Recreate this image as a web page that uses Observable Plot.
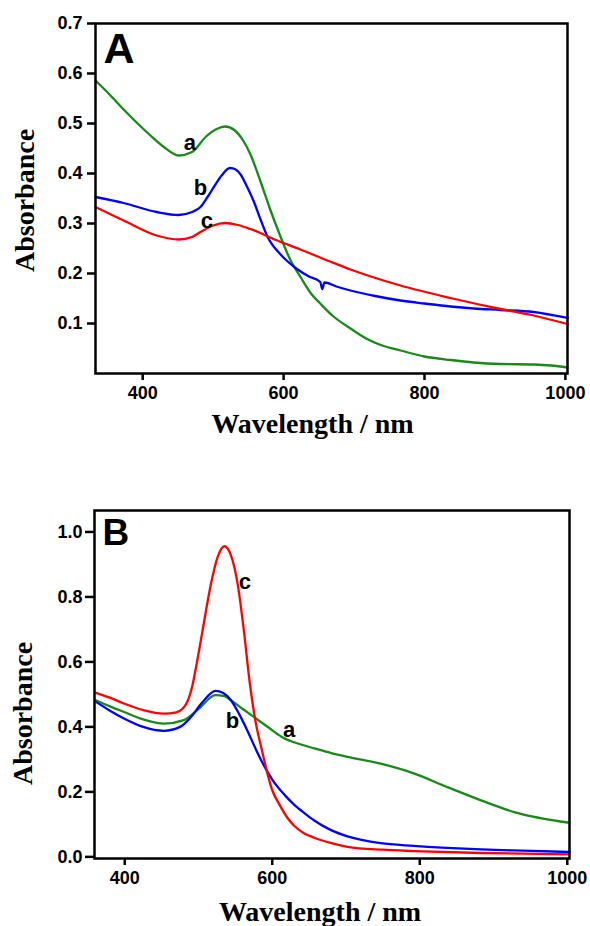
<!DOCTYPE html>
<html>
<head>
<meta charset="utf-8">
<script src="https://cdn.jsdelivr.net/npm/d3@7"></script>
<script src="https://cdn.jsdelivr.net/npm/@observablehq/plot@0.6"></script>
<style>
  body { margin: 0; background: #fff; }
  #chart { position: relative; width: 590px; height: 926px; }
  #chart svg { display: block; }
</style>
</head>
<body>
<div id="chart"></div>
<script>
// ---------- Panel A data ----------
const aA_wl  = [333, 353, 373, 395, 411, 430, 451, 470, 490, 505, 517, 530, 543, 553, 567, 581, 595, 610, 624, 640, 652, 670, 695, 720, 740, 766, 800, 837, 870, 908, 955, 980, 1003];
const aA_abs = [0.586, 0.558, 0.528, 0.497, 0.476, 0.453, 0.436, 0.443, 0.474, 0.489, 0.494, 0.487, 0.465, 0.438, 0.385, 0.328, 0.276, 0.226, 0.193, 0.158, 0.140, 0.115, 0.090, 0.068, 0.056, 0.046, 0.034, 0.027, 0.022, 0.019, 0.018, 0.016, 0.012];

const bA_wl  = [333, 373, 420, 451, 470, 482, 492, 501, 512, 524, 532, 539, 548, 558, 567, 577, 595, 605, 619, 636, 652, 655, 658, 675, 695, 730, 766, 800, 837, 870, 908, 955, 1003];
const bA_abs = [0.353, 0.341, 0.323, 0.317, 0.323, 0.333, 0.353, 0.373, 0.396, 0.411, 0.408, 0.398, 0.374, 0.343, 0.309, 0.274, 0.239, 0.225, 0.209, 0.194, 0.183, 0.169, 0.182, 0.174, 0.166, 0.155, 0.146, 0.140, 0.134, 0.130, 0.127, 0.123, 0.111];

const cA_wl  = [333, 373, 420, 451, 470, 482, 500, 517, 535, 553, 591, 624, 666, 695, 766, 837, 908, 955, 1003];
const cA_abs = [0.333, 0.306, 0.276, 0.268, 0.273, 0.283, 0.296, 0.301, 0.297, 0.289, 0.266, 0.248, 0.224, 0.208, 0.176, 0.151, 0.129, 0.116, 0.099];

const labA_text = ["a", "b", "c"];
const labA_wl   = [467, 482, 491];
const labA_abs  = [0.461, 0.371, 0.305];

const xTicksA = [400, 600, 800, 1000];
const yTicksA = [0.1, 0.2, 0.3, 0.4, 0.5, 0.6, 0.7];

// ---------- Panel B data ----------
const aB_wl  = [361, 380, 399, 425, 453, 480, 500, 523, 535, 544, 560, 575, 595, 613, 640, 657, 679, 702, 747, 792, 837, 883, 928, 1003];
const aB_abs = [0.482, 0.463, 0.446, 0.423, 0.410, 0.421, 0.455, 0.498, 0.495, 0.482, 0.455, 0.431, 0.398, 0.369, 0.345, 0.334, 0.320, 0.308, 0.287, 0.257, 0.215, 0.174, 0.138, 0.105];

const bB_wl  = [361, 380, 399, 425, 453, 475, 490, 505, 523, 533, 544, 555, 566, 578, 589, 600, 617, 630, 644, 657, 679, 702, 747, 792, 837, 883, 940, 1003];
const bB_abs = [0.477, 0.450, 0.426, 0.400, 0.388, 0.400, 0.431, 0.475, 0.511, 0.505, 0.482, 0.440, 0.390, 0.330, 0.280, 0.238, 0.190, 0.160, 0.134, 0.112, 0.083, 0.063, 0.042, 0.034, 0.028, 0.023, 0.019, 0.015];

const cB_wl  = [361, 380, 399, 425, 453, 470, 478, 485, 492, 498, 505, 517, 526, 535, 544, 553, 562, 569, 577, 586, 600, 610, 620, 630, 643, 657, 679, 702, 750, 792, 883, 1003];
const cB_abs = [0.505, 0.490, 0.472, 0.452, 0.441, 0.445, 0.455, 0.478, 0.530, 0.600, 0.690, 0.841, 0.923, 0.956, 0.928, 0.841, 0.687, 0.544, 0.421, 0.328, 0.205, 0.160, 0.122, 0.095, 0.073, 0.059, 0.043, 0.031, 0.022, 0.018, 0.012, 0.008];

const labB_text = ["a", "b", "c"];
const labB_wl   = [623, 546, 563];
const labB_abs  = [0.390, 0.419, 0.846];

const xTicksB = [400, 600, 800, 1000];
const yTicksB = [0.0, 0.2, 0.4, 0.6, 0.8, 1.0];

// ---------- styling ----------
const colA = "#178a17", colB = "#0000ff", colC = "#ff0000";
const sans = "'Liberation Sans', Arial, sans-serif";
const serif = "'Liberation Serif', 'Times New Roman', serif";

function rows(xs, ys) { return xs.map((x, i) => ({wl: x, abs: ys[i]})); }
function labels(t, xs, ys) { return t.map((s, i) => ({s, wl: xs[i], abs: ys[i]})); }

function panel(cfg) {
  return Plot.plot({
    width: 590,
    height: cfg.height,
    marginLeft: cfg.ml, marginRight: cfg.mr, marginTop: cfg.mt, marginBottom: cfg.mb,
    style: {fontFamily: sans, fontSize: "18px", fontWeight: "bold", color: "black", background: "white", overflow: "visible"},
    x: {domain: cfg.xDomain},
    y: {domain: cfg.yDomain},
    marks: [
      Plot.axisX({ticks: cfg.xTicks, tickSize: 7, tickPadding: 6, strokeWidth: 2.5, label: null, tickFormat: d3.format("d")}),
      Plot.axisY({ticks: cfg.yTicks, tickSize: cfg.ytick, tickPadding: cfg.ypad, strokeWidth: 2.5, label: null, tickFormat: d3.format(".1f")}),
      Plot.line(rows(cfg.a[0], cfg.a[1]), {x: "wl", y: "abs", stroke: colA, strokeWidth: 2.3, curve: "monotone-x"}),
      Plot.line(rows(cfg.b[0], cfg.b[1]), {x: "wl", y: "abs", stroke: colB, strokeWidth: 2.3, curve: "monotone-x"}),
      Plot.line(rows(cfg.c[0], cfg.c[1]), {x: "wl", y: "abs", stroke: colC, strokeWidth: 2.3, curve: "monotone-x"}),
      Plot.text(labels(cfg.lab[0], cfg.lab[1], cfg.lab[2]), {x: "wl", y: "abs", text: "s", fontFamily: sans, fontSize: 22, fontWeight: "bold", fill: "black", textAnchor: "middle", lineAnchor: "middle"}),
      Plot.text([cfg.letter], {frameAnchor: "top-left", text: d => d, dx: cfg.letterDx, dy: cfg.letterDy, textAnchor: "start", lineAnchor: "top", fontFamily: sans, fontSize: cfg.letterSize, fontWeight: "bold", fill: "black"}),
      Plot.text(["Absorbance"], {frameAnchor: "left", text: d => d, rotate: -90, dx: cfg.yTitleDx, dy: cfg.yTitleDy, textAnchor: "middle", lineAnchor: "middle", fontFamily: serif, fontSize: 28, fontWeight: "bold", fill: "black"}),
      Plot.text(["Wavelength / nm"], {frameAnchor: "bottom", text: d => d, dx: cfg.xTitleDx, dy: cfg.xTitleDy, textAnchor: "middle", lineAnchor: "bottom", fontFamily: serif, fontSize: 28, fontWeight: "bold", fill: "black"}),
      Plot.frame({stroke: "black", strokeWidth: 2.5})
    ]
  });
}

const chart = document.getElementById("chart");
chart.appendChild(panel({
  height: 445, ml: 95, mr: 23, mt: 23, mb: 72,
  xDomain: [333, 1003], yDomain: [0, 0.7],
  xTicks: xTicksA, yTicks: yTicksA, ytick: 8, ypad: 5,
  a: [aA_wl, aA_abs], b: [bA_wl, bA_abs], c: [cA_wl, cA_abs],
  lab: [labA_text, labA_wl, labA_abs],
  letter: "A", letterDx: 8, letterDy: 9, letterSize: 43,
  yTitleDx: -70, yTitleDy: 2, xTitleDx: -19, xTitleDy: 59
}));
chart.appendChild(panel({
  height: 481, ml: 94, mr: 21, mt: 65, mb: 68,
  xDomain: [359, 1003], yDomain: [-0.005, 1.066],
  xTicks: xTicksB, yTicks: yTicksB, ytick: 9, ypad: 3,
  a: [aB_wl, aB_abs], b: [bB_wl, bB_abs], c: [cB_wl, cB_abs],
  lab: [labB_text, labB_wl, labB_abs],
  letter: "B", letterDx: 8, letterDy: 8, letterSize: 37,
  yTitleDx: -71, yTitleDy: 29, xTitleDx: -12, xTitleDy: 62
}));
</script>
</body>
</html>
